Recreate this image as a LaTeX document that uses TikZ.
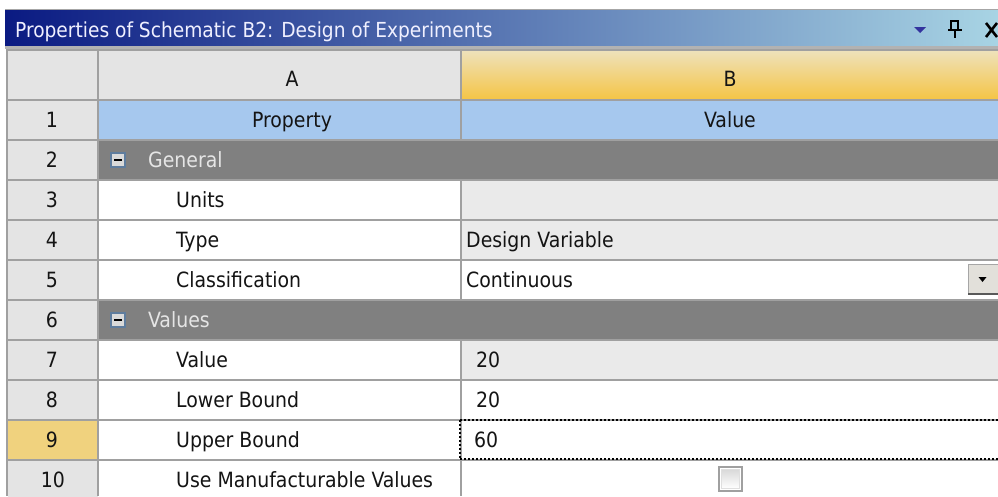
\documentclass[tikz,border=0pt]{standalone}
\usepackage{fontspec}
\setmainfont{DejaVu Sans Condensed}
\definecolor{navy}{HTML}{0A1A82}
\definecolor{skyl}{HTML}{A8D4E4}
\definecolor{numgray}{HTML}{E4E4E4}
\definecolor{bgray}{HTML}{EAEAEA}
\definecolor{hdrblue}{HTML}{A6C8EE}
\definecolor{grpgray}{HTML}{808080}
\definecolor{selyel}{HTML}{F0D27E}
\definecolor{gridc}{HTML}{A0A0A0}
\definecolor{txt}{HTML}{141414}
\definecolor{hdrtop}{HTML}{EEE2BC}
\definecolor{hdrbot}{HTML}{F5C444}
\definecolor{iconedge}{HTML}{5F7D9E}
\definecolor{iconfill}{HTML}{DADADA}
\definecolor{btnfill}{HTML}{E2E0DA}
\tikzset{
  celltxt/.style={inner sep=0pt,anchor=base west,text=txt,font=\fontsize{21pt}{25pt}\selectfont},
  numtxt/.style={inner sep=0pt,anchor=base,text=txt,font=\fontsize{21pt}{25pt}\selectfont},
  grptxt/.style={inner sep=0pt,anchor=base west,text=white!90!black,font=\fontsize{21pt}{25pt}\selectfont},
  gridline/.style={draw=gridc,line width=2pt},
  focusline/.style={draw=black,line width=2.4pt,dash pattern=on 2pt off 2pt},
}
\begin{document}
\begin{tikzpicture}[x=1pt,y=-1pt]
\useasboundingbox (0,0) rectangle (998,496);
\fill[white] (0,0) rectangle (998,496);
% title bar
\fill[gray!70] (5,9) rectangle (998,10);
\shade[left color=navy,right color=skyl] (5,10) rectangle (998,46);
\fill[gray!60] (5,46) rectangle (998,49);
\node[inner sep=0pt,anchor=base west,text=white!94!blue,font=\fontsize{20.7pt}{24pt}\selectfont] (title) at (15,37) {Properties of Schematic B2: Design of Experiments};
% title icons
\fill[black!30!blue!60!gray] (914,27) -- (926,27) -- (920,33) -- cycle;
\draw[black,line width=2pt] (951,21) rectangle (958,30);
\draw[black,line width=2pt] (948,30) -- (962,30);
\draw[black,line width=2pt] (955,30) -- (955,38);
\draw[black,line width=2.6pt] (986,23) -- (997,37) (986,37) -- (997,23);
% header row
\fill[numgray] (8,50) rectangle (461,100);
\shade[top color=hdrtop,bottom color=hdrbot] (461,50) rectangle (998,100);
\node[numtxt] (hA) at (292,86) {A};
\node[numtxt] (hB) at (730,86) {B};
% row 1
\fill[numgray] (8,100) rectangle (98,140);
\fill[hdrblue] (98,100) rectangle (998,140);
\node[numtxt] (n1) at (52,127) {1};
\node[numtxt] (p1) at (292,127) {Property};
\node[numtxt] (v1) at (730,127) {Value};
% number column rows 2..10
\fill[numgray] (8,140) rectangle (98,500);
\fill[selyel] (8,420) rectangle (98,460);
% group rows
\fill[grpgray] (98,140) rectangle (998,180);
\fill[grpgray] (98,300) rectangle (998,340);
% B column backgrounds
\fill[bgray] (461,180) rectangle (998,260);
\fill[bgray] (461,340) rectangle (998,380);
% grid
\foreach \yy in {50,100,140,180,220,260,300,340,380,420,460} {
  \draw[gridline] (7,\yy) -- (998,\yy);
}
\draw[gridline] (7,49) -- (7,496);
\draw[gridline] (98,49) -- (98,496);
\draw[gridline] (461,49) -- (461,140);
\draw[gridline] (461,180) -- (461,300);
\draw[gridline] (461,340) -- (461,496);
% row numbers
\foreach \n [evaluate=\n as \yb using {140+40*(\n-2)+27}] in {2,...,9} {
  \node[numtxt] (n\n) at (52,\yb) {\n};
}
\node[numtxt] (n10) at (53,487) {10};
% collapse icons
\foreach \yy in {153,313} {
  \draw[iconedge,fill=iconfill,line width=1.4pt] (111,\yy) rectangle (125,\yy+14);
  \draw[black,line width=2pt] (114,\yy+7) -- (122,\yy+7);
}
\node[grptxt] (gen) at (148,167) {General};
\node[grptxt] (val) at (148,327) {Values};
% property names
\node[celltxt] (a3) at (176,207) {Units};
\node[celltxt] (a4) at (176,247) {Type};
\node[celltxt] (a5) at (176,287) {Classification};
\node[celltxt] (a7) at (176,367) {Value};
\node[celltxt] (a8) at (176,407) {Lower Bound};
\node[celltxt] (a9) at (176,447) {Upper Bound};
\node[celltxt] (a10) at (176,487) {Use Manufacturable Values};
% values
\node[celltxt] (b4) at (466,247) {Design Variable};
\node[celltxt] (b5) at (466,287) {Continuous};
\node[celltxt] (b7) at (476,367) {20};
\node[celltxt] (b8) at (476,407) {20};
\node[celltxt] (b9) at (474,447) {60};
% dropdown button
\fill[btnfill] (968,264) rectangle (998,294);
\draw[gray!70,line width=1.2pt] (968.6,294) -- (968.6,264.6) -- (998,264.6);
\draw[black!65,line width=2pt] (968,294) -- (998,294);
\fill[black] (978.5,277) -- (986.5,277) -- (982.5,282) -- cycle;
% dotted focus rectangle
\draw[focusline] (460,420) -- (998,420);
\draw[focusline] (460,459) -- (998,459);
\draw[focusline] (460,420) -- (460,459);
% checkbox
\draw[gridc,line width=2pt] (719,467) rectangle (742,491);
\shade[top color=gray!30,bottom color=white] (721.5,469.5) rectangle (739.5,488.5);
\draw[gray!25,line width=1pt] (721.5,469.5) rectangle (739.5,488.5);
\end{tikzpicture}
\end{document}
